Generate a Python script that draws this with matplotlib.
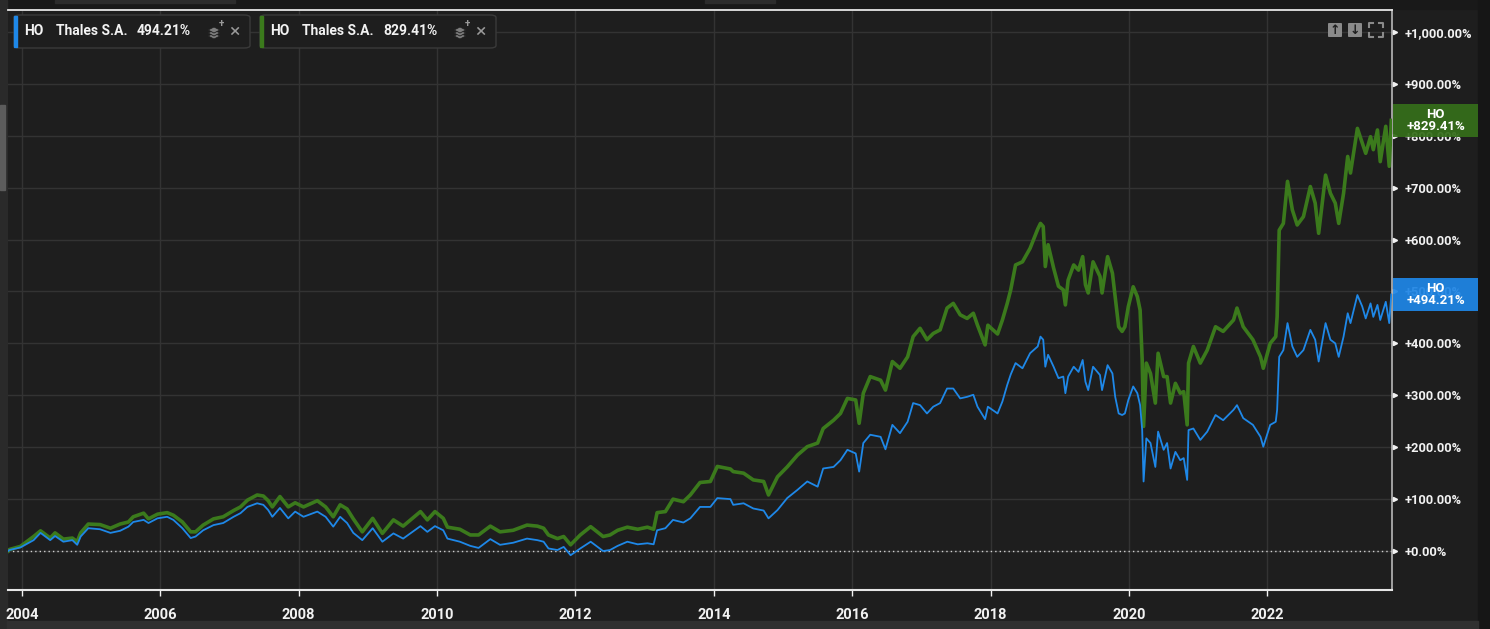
import matplotlib.pyplot as plt
import matplotlib.transforms as mtransforms
from matplotlib.patches import Rectangle, FancyBboxPatch, Polygon
from matplotlib.lines import Line2D

# decimal years, % change since start
DATES = [
    2003.80, 2003.82, 2003.98, 2004.17, 2004.27, 2004.41, 2004.48, 2004.60, 2004.73, 2004.80,
    2004.85, 2004.96, 2005.13, 2005.28, 2005.42, 2005.54, 2005.61, 2005.76, 2005.83, 2005.96,
    2006.10, 2006.19, 2006.32, 2006.44, 2006.51, 2006.62, 2006.77, 2006.91, 2007.06, 2007.16,
    2007.26, 2007.40, 2007.49, 2007.56, 2007.62, 2007.73, 2007.85, 2007.95, 2008.07, 2008.27,
    2008.39, 2008.50, 2008.60, 2008.70, 2008.79, 2008.92, 2009.07, 2009.21, 2009.37, 2009.51,
    2009.76, 2009.86, 2009.97, 2010.09, 2010.15, 2010.33, 2010.48, 2010.60, 2010.77, 2010.91,
    2011.10, 2011.30, 2011.45, 2011.54, 2011.61, 2011.74, 2011.83, 2011.93, 2012.07, 2012.22,
    2012.40, 2012.50, 2012.61, 2012.75, 2012.90, 2013.04, 2013.13, 2013.18, 2013.30, 2013.41,
    2013.56, 2013.66, 2013.80, 2013.95, 2014.05, 2014.24, 2014.28, 2014.43, 2014.57, 2014.72,
    2014.79, 2014.92, 2015.06, 2015.21, 2015.35, 2015.50, 2015.58, 2015.73, 2015.83, 2015.93,
    2016.05, 2016.10, 2016.16, 2016.26, 2016.41, 2016.48, 2016.58, 2016.69, 2016.80, 2016.88,
    2016.98, 2017.08, 2017.17, 2017.27, 2017.37, 2017.46, 2017.56, 2017.66, 2017.75, 2017.81,
    2017.92, 2017.96, 2018.10, 2018.17, 2018.24, 2018.29, 2018.36, 2018.46, 2018.57, 2018.68,
    2018.72, 2018.76, 2018.79, 2018.83, 2018.91, 2018.98, 2019.05, 2019.08, 2019.12, 2019.20,
    2019.27, 2019.33, 2019.37, 2019.41, 2019.48, 2019.58, 2019.61, 2019.69, 2019.76, 2019.80,
    2019.85, 2019.90, 2019.94, 2019.99, 2020.06, 2020.12, 2020.16, 2020.19, 2020.21, 2020.25,
    2020.31, 2020.38, 2020.42, 2020.50, 2020.55, 2020.60, 2020.67, 2020.74, 2020.79, 2020.84,
    2020.86, 2020.93, 2021.03, 2021.13, 2021.25, 2021.36, 2021.51, 2021.56, 2021.65, 2021.79,
    2021.90, 2021.94, 2022.04, 2022.12, 2022.14, 2022.17, 2022.23, 2022.29, 2022.36, 2022.43,
    2022.52, 2022.62, 2022.69, 2022.74, 2022.84, 2022.91, 2022.98, 2023.03, 2023.10, 2023.16,
    2023.20, 2023.30, 2023.37, 2023.42, 2023.49, 2023.53, 2023.59, 2023.63, 2023.71, 2023.76,
    2023.79,
]

# price return
BLUE = [
    0, 2, 7, 21, 35, 21, 29, 18, 21, 12,
    28, 44, 42, 35, 39, 47, 56, 60, 54, 63,
    66, 60, 44, 25, 28, 40, 50, 54, 66, 73,
    85, 92, 89, 79, 66, 83, 63, 76, 66, 76,
    66, 47, 66, 54, 35, 21, 44, 18, 34, 24,
    48, 37, 48, 40, 24, 18, 10, 6, 23, 12,
    16, 24, 21, 18, 5, 2, 8, -8, 5, 18,
    0, 2, 10, 18, 13, 15, 13, 40, 44, 60,
    55, 63, 85, 85, 102, 100, 89, 92, 82, 78,
    63, 79, 102, 118, 134, 124, 159, 162, 175, 195,
    188, 153, 208, 224, 220, 196, 243, 227, 249, 285,
    281, 265, 278, 285, 313, 313, 294, 297, 301, 278,
    254, 278, 265, 288, 320, 340, 362, 352, 381, 394,
    413, 407, 355, 378, 355, 333, 336, 304, 336, 355,
    345, 368, 326, 310, 355, 339, 310, 358, 342, 297,
    265, 262, 265, 291, 317, 304, 281, 233, 134, 217,
    208, 162, 230, 195, 208, 159, 191, 175, 179, 137,
    233, 236, 214, 230, 262, 252, 272, 281, 256, 243,
    220, 201, 243, 249, 272, 374, 387, 439, 394, 374,
    387, 426, 407, 365, 439, 407, 400, 374, 413, 458,
    439, 493, 471, 448, 477, 451, 474, 445, 480, 439,
    494.21,
]

# total return
GREEN = [
    0, 3, 9, 28, 39, 25, 35, 23, 25, 18,
    35, 52, 51, 44, 52, 56, 66, 73, 62, 71,
    74, 69, 56, 37, 37, 50, 62, 66, 78, 85,
    98, 108, 106, 97, 85, 105, 85, 93, 85, 97,
    85, 66, 89, 81, 62, 37, 63, 34, 60, 48,
    76, 60, 76, 63, 46, 42, 31, 31, 48, 37,
    40, 50, 48, 44, 31, 24, 28, 12, 31, 47,
    28, 31, 40, 46, 42, 46, 42, 74, 76, 100,
    95, 108, 132, 134, 163, 158, 153, 150, 137, 134,
    108, 143, 162, 185, 201, 208, 236, 252, 265, 294,
    291, 246, 304, 336, 329, 310, 365, 352, 374, 413,
    429, 407, 419, 426, 468, 477, 455, 448, 458, 435,
    397, 435, 418, 445, 477, 503, 551, 557, 583, 620,
    631, 625, 548, 590, 545, 510, 503, 474, 522, 551,
    541, 567, 513, 497, 557, 529, 497, 567, 535, 490,
    432, 423, 432, 471, 509, 490, 464, 368, 240, 362,
    342, 285, 381, 336, 336, 285, 323, 304, 307, 243,
    362, 394, 362, 387, 432, 423, 445, 468, 432, 407,
    374, 352, 400, 413, 451, 618, 631, 712, 657, 628,
    644, 702, 670, 612, 724, 689, 670, 631, 689, 760,
    728, 814, 786, 766, 798, 773, 811, 750, 818, 741,
    829.41,
]

NAME = "Thales S.A."
TICKER = "HO"
YEAR_TICKS = [2004, 2006, 2008, 2010, 2012, 2014, 2016, 2018, 2020, 2022]
PCT_TICKS = [0, 100, 200, 300, 400, 500, 600, 700, 800, 900, 1000]

BG = "#1e1e1e"
GRID = "#333333"
BLUE_C = "#1e88e8"
GREEN_C = "#3b7a1c"
GREEN_BOX = "#356e1a"
BLUE_BOX = "#1f86e6"
INK = "#f2f2f2"

W, H = 1490, 629
plt.rcParams["font.family"] = ["Roboto", "DejaVu Sans"]

fig = plt.figure(figsize=(W / 100, H / 100), dpi=100)
fig.patch.set_facecolor(BG)


def fx(x):
    return x / W


def fy(y):
    return 1 - y / H


ax = fig.add_axes([fx(8), fy(590), fx(1392) - fx(8), fy(10) - fy(590)])
ax.set_facecolor(BG)

# page chrome: top strip, left scrollbar, right strip, bottom strip
fig.add_artist(Rectangle((0, fy(9)), 1, 9 / H, transform=fig.transFigure, color="#191919", zorder=0))
fig.add_artist(Rectangle((fx(55), fy(3)), fx(180), 3 / H, transform=fig.transFigure, color="#2c2c2c", zorder=0))
fig.add_artist(Rectangle((fx(705), fy(3)), fx(70), 3 / H, transform=fig.transFigure, color="#2c2c2c", zorder=0))
fig.add_artist(Rectangle((0, 0), fx(7), 1, transform=fig.transFigure, color="#2a2a2a", zorder=0))
fig.add_artist(Rectangle((0, fy(190)), fx(5), 85 / H, transform=fig.transFigure, color="#5c5c5c", zorder=1))
fig.add_artist(Rectangle((fx(1478), 0), fx(12), 1, transform=fig.transFigure, color="#161616", zorder=0))
fig.add_artist(Rectangle((fx(7), 0), fx(1471), 8 / H, transform=fig.transFigure, color="#303030", zorder=0))

ax.plot(DATES, GREEN, color=GREEN_C, linewidth=2.6, zorder=3)
ax.plot(DATES, BLUE, color=BLUE_C, linewidth=1.3, zorder=4)
ax.axhline(0, color="#d0d0d0", linewidth=1.0, linestyle=(0, (1, 2.2)), zorder=2)

ax.set_xlim(2003.80, 2023.80)
ax.set_ylim(-75, 1042)
ax.set_xticks(YEAR_TICKS)
ax.set_xticklabels([str(y) for y in YEAR_TICKS])
ax.set_yticks(PCT_TICKS)
ax.set_yticklabels([f"+{v:,.2f}%" for v in PCT_TICKS])
ax.yaxis.tick_right()
ax.grid(True, color=GRID, linewidth=1.0, zorder=0)
ax.set_axisbelow(True)
ax.tick_params(axis="x", colors=INK, labelsize=10.5, length=4, width=1, pad=9, direction="out")
ax.tick_params(axis="y", colors=INK, labelsize=9.3, length=0, pad=9)
for lbl in ax.get_xticklabels() + ax.get_yticklabels():
    lbl.set_fontweight("bold")
    lbl.set_color(INK)

ax.spines["left"].set_visible(False)
ax.spines["top"].set_color("#e6e6e6")
ax.spines["top"].set_linewidth(1.3)
ax.spines["bottom"].set_color("#e6e6e6")
ax.spines["bottom"].set_linewidth(1.5)
ax.spines["right"].set_color("#b8b8b8")
ax.spines["right"].set_linewidth(1.2)

# small triangle tick markers on the right axis
blend = mtransforms.blended_transform_factory(ax.transAxes, ax.transData)
ax.plot([1.0025] * len(PCT_TICKS), PCT_TICKS, linestyle="none", marker=">", markersize=3,
        color=INK, transform=blend, clip_on=False, zorder=5)

# last-value boxes on the right axis (drawn over the tick labels, slightly see-through)
box_w = (1478 - 1393) / (1392 - 8)
box_h = 33 / 0.519
for value, face in ((GREEN[-1], GREEN_BOX), (BLUE[-1], BLUE_BOX)):
    box = Rectangle((1.0008, value - box_h / 2), box_w, box_h, transform=blend,
                    facecolor=face, edgecolor="none", alpha=0.93, clip_on=False)
    box.set_zorder(6)
    fig.add_artist(box)
    fig.text(0, 0, f"{TICKER}\n+{value:.2f}%", transform=blend,
             ha="center", va="center", fontsize=9.5, fontweight="bold", color="white",
             linespacing=0.95, zorder=7).set_position((1.0008 + box_w / 2, value))

# series chips at the top-left
for x0, val, bar in ((14, BLUE[-1], BLUE_C), (260, GREEN[-1], GREEN_C)):
    fig.add_artist(FancyBboxPatch((fx(x0), fy(48)), fx(236), 33 / H,
                                  boxstyle="round,pad=0,rounding_size=0.004",
                                  transform=fig.transFigure, facecolor=BG,
                                  edgecolor="#3a3a3a", linewidth=1, zorder=8))
    fig.add_artist(Rectangle((fx(x0), fy(47)), fx(3), 31 / H, transform=fig.transFigure,
                             color=bar, zorder=9))
    fig.text(fx(x0 + 10), fy(31), TICKER, ha="left", va="center", fontsize=10,
             fontweight="bold", color=INK, zorder=10)
    fig.text(fx(x0 + 42), fy(31), NAME, ha="left", va="center", fontsize=10,
             fontweight="bold", color=INK, zorder=10)
    fig.text(fx(x0 + 123), fy(31), f"{val:.2f}%", ha="left", va="center", fontsize=10,
             fontweight="bold", color=INK, zorder=10)
    # stacked-layers icon
    ix = x0 + 194
    for k, dy in enumerate((36, 33, 30)):
        fig.add_artist(Polygon([(fx(ix), fy(dy)), (fx(ix + 6), fy(dy - 3)), (fx(ix + 12), fy(dy)),
                                (fx(ix + 6), fy(dy + 3))], closed=True, transform=fig.transFigure,
                               facecolor="#7d7d7d", edgecolor=BG, linewidth=0.6, zorder=10 + k))
    fig.text(fx(ix + 13), fy(24), "+", ha="center", va="center", fontsize=7,
             fontweight="bold", color="#9a9a9a", zorder=12)
    fig.text(fx(x0 + 220), fy(32), "\u00d7", ha="center", va="center", fontsize=14,
             color="#9a9a9a", zorder=10)

# top-right toolbar icons
for x0, glyph in ((1328, "\u2191"), (1348, "\u2193")):
    fig.add_artist(FancyBboxPatch((fx(x0), fy(37)), fx(14), 14 / H,
                                  boxstyle="round,pad=0,rounding_size=0.001",
                                  transform=fig.transFigure, facecolor="#8a8a8a",
                                  edgecolor="none", zorder=8))
    fig.text(fx(x0 + 7), fy(30), glyph, ha="center", va="center", fontsize=9,
             fontweight="bold", color="#1e1e1e", family="DejaVu Sans", zorder=9)
cx0, cy0, cs, arm = 1369, 23, 14, 4
for (px, py, sx, sy) in ((cx0, cy0, 1, 1), (cx0 + cs, cy0, -1, 1),
                         (cx0, cy0 + cs, 1, -1), (cx0 + cs, cy0 + cs, -1, -1)):
    fig.add_artist(Line2D([fx(px), fx(px), fx(px + sx * arm)],
                          [fy(py + sy * arm), fy(py), fy(py)],
                          transform=fig.transFigure, color="#8a8a8a", linewidth=1.5, zorder=8))

fig.savefig("out.png", dpi=100, facecolor=BG)
